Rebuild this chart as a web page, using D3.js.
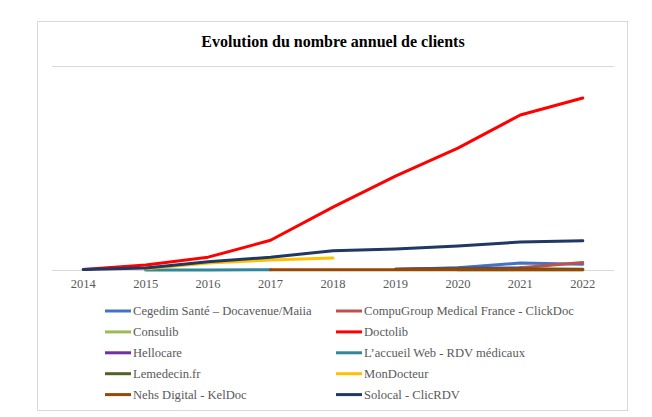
<!DOCTYPE html>
<html>
<head>
<meta charset="utf-8">
<script src="https://cdn.jsdelivr.net/npm/d3@7"></script>
<style>
  body { margin: 0; background: #fff; }
  svg { display: block; }
</style>
</head>
<body>
<svg id="chart" width="652" height="417"></svg>
<script>
// years on the x axis
const years = ["2014", "2015", "2016", "2017", "2018", "2019", "2020", "2021", "2022"];

// series values (null = no data that year)
const cegedim    = [null, null, null, null, null, 1000, 4000, 12000, 10000];
const compugroup = [null, null, null, null, null, null, null, 4000, 13000];
const consulib   = [null, null, null, null, null, null, 300, 300, 300];
const doctolib   = [1000, 8500, 22000, 51000, 108000, 161000, 209000, 266000, 295000];
const hellocare  = [null, null, null, null, null, 1500, 3000, 3500, null];
const accueil    = [null, 200, 200, 300, null, null, null, null, null];
const lemedecin  = [null, null, null, null, null, 1500, 2000, 2000, 1500];
const mondocteur = [null, 2000, 12000, 17000, 20500, null, null, null, null];
const nehs       = [null, null, null, 500, 500, 500, 500, 500, 500];
const solocal    = [1000, 3500, 14000, 22000, 33000, 36000, 41000, 48000, 50000];

const seriesNames = [
    "Cegedim Santé – Docavenue/Maiia",
    "CompuGroup Medical France - ClickDoc",
    "Consulib",
    "Doctolib",
    "Hellocare",
    "L’accueil Web - RDV médicaux",
    "Lemedecin.fr",
    "MonDocteur",
    "Nehs Digital - KelDoc",
    "Solocal - ClicRDV"
];
const seriesValues = [cegedim, compugroup, consulib, doctolib, hellocare, accueil, lemedecin, mondocteur, nehs, solocal];
const seriesColors = ["#4472C4", "#C0504D", "#9BBB59", "#FF0000", "#7030A0", "#31859C", "#4F6228", "#FFC000", "#974706", "#1F3864"];

const yMax = 350000;

const svg = d3.select("#chart");
const font = "'Liberation Serif', 'Times New Roman', serif";

// outer frame
svg.append("rect")
    .attr("x", 37.5).attr("y", 21.5)
    .attr("width", 590).attr("height", 389)
    .attr("fill", "#fff")
    .attr("stroke", "#d9d9d9")
    .attr("stroke-width", 1);

// title
svg.append("text")
    .attr("x", 333).attr("y", 47)
    .attr("text-anchor", "middle")
    .style("font-family", font)
    .style("font-size", "16px")
    .style("font-weight", "bold")
    .style("fill", "#000")
    .text("Evolution du nombre annuel de clients");

const xScale = d3.scaleBand()
    .domain(years)
    .range([52, 614]);

const yScale = d3.scaleLinear()
    .domain([0, yMax])
    .range([270, 66]);

// gridlines (top and baseline)
svg.selectAll(".grid")
    .data([0, yMax]).enter()
    .append("line")
    .attr("class", "grid")
    .attr("x1", 52).attr("x2", 614)
    .attr("y1", d => Math.round(yScale(d)) + 0.5)
    .attr("y2", d => Math.round(yScale(d)) + 0.5)
    .attr("stroke", "#d9d9d9")
    .attr("stroke-width", 1);

// x axis labels
const xAxis = svg.append("g")
    .attr("transform", "translate(0,270)")
    .call(d3.axisBottom(xScale).tickSize(0).tickPadding(9));
xAxis.select(".domain").remove();
xAxis.selectAll("text")
    .style("font-family", font)
    .style("font-size", "12.5px")
    .style("fill", "#595959");

const line = d3.line()
    .defined(d => d.v !== null)
    .x(d => xScale(d.year) + xScale.bandwidth() / 2)
    .y(d => yScale(d.v));

seriesValues.forEach(function(values, i) {
    const pts = years.map((year, j) => ({year: year, v: values[j]}));
    svg.append("path")
        .datum(pts)
        .attr("fill", "none")
        .attr("stroke", seriesColors[i])
        .attr("stroke-width", 3)
        .attr("stroke-linejoin", "round")
        .attr("stroke-linecap", "round")
        .attr("d", line);
});

// legend, two columns
const legend = svg.append("g");
seriesNames.forEach(function(name, i) {
    const col = i % 2;
    const row = Math.floor(i / 2);
    const x0 = col === 0 ? 105 : 336;
    const y0 = 311 + row * 20.9;
    legend.append("line")
        .attr("x1", x0).attr("x2", x0 + 26)
        .attr("y1", y0).attr("y2", y0)
        .attr("stroke", seriesColors[i])
        .attr("stroke-width", 3);
    legend.append("text")
        .attr("x", x0 + 28).attr("y", y0 + 4)
        .style("font-family", font)
        .style("font-size", "12.6px")
        .style("fill", "#595959")
        .text(name);
});
</script>
</body>
</html>
